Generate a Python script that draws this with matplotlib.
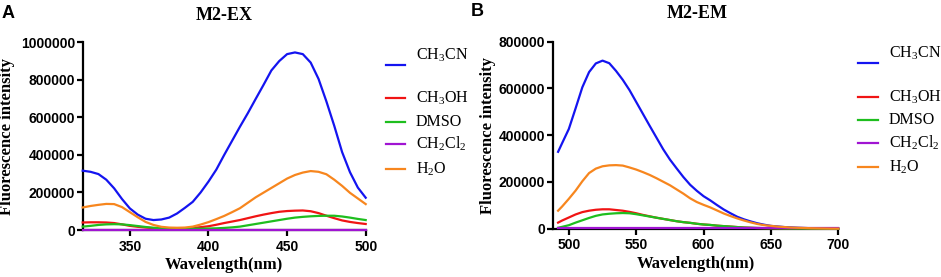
import matplotlib
matplotlib.use("Agg")
import matplotlib.pyplot as plt
from matplotlib.lines import Line2D

plt.rcParams['font.family'] = ['Liberation Sans', 'DejaVu Sans']
plt.rcParams['mathtext.fontset'] = 'custom'
plt.rcParams['mathtext.rm'] = 'Liberation Serif'

# ---------------- Data ----------------
series_names = [r'CH$_\mathregular{3}$CN', r'CH$_\mathregular{3}$OH', 'DMSO',
                r'CH$_\mathregular{2}$Cl$_\mathregular{2}$', r'H$_\mathregular{2}$O']

# Panel A: excitation spectra (M2-EX)
ex_wl = list(range(320, 505, 5))
ex_ch3cn = [316e3, 310e3, 298e3, 268e3, 222e3, 165e3, 115e3, 82e3, 60e3, 53e3,
            56e3, 66e3, 88e3, 118e3, 150e3, 200e3, 258e3, 322e3, 400e3, 475e3,
            550e3, 622e3, 698e3, 773e3, 850e3, 900e3, 937e3, 946e3, 937e3, 892e3,
            805e3, 685e3, 555e3, 415e3, 308e3, 226e3, 172e3]
ex_ch3oh = [40e3, 41e3, 41e3, 40e3, 37e3, 30e3, 22e3, 17e3, 13e3, 10e3,
            8e3, 7e3, 8e3, 9e3, 11e3, 15e3, 20e3, 28e3, 37e3, 45e3,
            53e3, 63e3, 73e3, 82e3, 90e3, 97e3, 101e3, 103e3, 104e3, 100e3,
            90e3, 76e3, 63e3, 51e3, 43e3, 37e3, 32e3]
ex_dmso = [18e3, 22e3, 27e3, 30e3, 31e3, 30e3, 26e3, 21e3, 16e3, 12e3,
           10e3, 9e3, 8e3, 7e3, 7e3, 7e3, 8e3, 9e3, 11e3, 14e3,
           18e3, 25e3, 32e3, 39e3, 46e3, 53e3, 60e3, 66e3, 70e3, 73e3,
           75e3, 76e3, 76e3, 72e3, 66e3, 59e3, 53e3]
ex_ch2cl2 = [1.5e3] * 37
ex_h2o = [120e3, 128e3, 134e3, 139e3, 138e3, 122e3, 95e3, 68e3, 43e3, 27e3,
          17e3, 13e3, 12e3, 13e3, 18e3, 29e3, 42e3, 58e3, 75e3, 95e3,
          116e3, 145e3, 174e3, 199e3, 224e3, 249e3, 274e3, 293e3, 306e3, 314e3,
          310e3, 297e3, 268e3, 235e3, 198e3, 168e3, 138e3]

# Panel B: emission spectra (M2-EM)
em_wl = [492] + list(range(495, 705, 5))
em_ch3cn = [329e3, 366e3, 427e3, 515e3, 605e3, 670e3, 707e3, 719e3, 708e3, 675e3,
            637e3, 593e3, 542e3, 491e3, 440e3, 390e3, 340e3, 296e3, 258e3, 221e3,
            188e3, 162e3, 139e3, 121e3, 101e3, 82e3, 66e3, 51e3, 40e3, 31e3,
            23e3, 17e3, 12e3, 9.5e3, 7e3, 5.5e3, 4e3, 3e3, 2e3, 1.5e3, 1e3, 0.5e3, 0.3e3]
em_ch3oh = [26e3, 35e3, 48e3, 61e3, 71e3, 77e3, 81e3, 83e3, 83e3, 80e3,
            77e3, 72e3, 66e3, 59e3, 53e3, 47e3, 42e3, 37e3, 32e3, 28e3,
            25e3, 21e3, 18e3, 16e3, 13e3, 11e3, 9e3, 7e3, 5e3, 4e3,
            3e3, 2.5e3, 2e3, 1.5e3, 1e3, 0.8e3, 0.6e3, 0.4e3, 0.3e3, 0.2e3, 0.1e3, 0.1e3, 0]
em_dmso = [4e3, 8e3, 15e3, 26e3, 36e3, 46e3, 55e3, 61e3, 64e3, 66e3,
           67e3, 66e3, 62e3, 57e3, 52e3, 47e3, 42e3, 37e3, 32e3, 28e3,
           25e3, 21e3, 18e3, 16e3, 13e3, 11e3, 9e3, 7e3, 5e3, 4e3,
           3e3, 2.5e3, 2e3, 1.5e3, 1e3, 0.8e3, 0.6e3, 0.4e3, 0.3e3, 0.2e3, 0.1e3, 0.1e3, 0]
em_ch2cl2 = [1e3] * 43
em_h2o = [77e3, 95e3, 128e3, 163e3, 203e3, 238e3, 257e3, 267e3, 271e3, 272e3,
          270e3, 262e3, 253e3, 242e3, 230e3, 216e3, 201e3, 186e3, 168e3, 150e3,
          130e3, 114e3, 102e3, 91e3, 78e3, 65e3, 54e3, 44e3, 35e3, 27e3,
          20e3, 15e3, 12e3, 9e3, 7e3, 5e3, 4e3, 3e3, 2e3, 1.5e3, 1e3, 0.5e3, 0.3e3]

colors = ['#1414f0', '#f01414', '#1ebe1e', '#a014d2', '#f7861e']

# ---------------- Figure ----------------
W, H = 941, 277
fig = plt.figure(figsize=(W / 100, H / 100), dpi=100)


def px_axes(l, t, r, b):
    return fig.add_axes([l / W, 1 - b / H, (r - l) / W, (b - t) / H])


def style(ax, xlim, xticks, ylim, yticks):
    ax.set_xlim(*xlim)
    ax.set_ylim(*ylim)
    ax.set_xticks(xticks)
    ax.set_yticks(yticks)
    ax.set_yticklabels([str(int(v)) for v in yticks])
    for s in ['top', 'right']:
        ax.spines[s].set_visible(False)
    for s in ['left', 'bottom']:
        ax.spines[s].set_linewidth(1.6)
    ax.tick_params(axis='both', length=4, width=1.6, labelsize=10)
    ax.tick_params(axis='x', pad=3)
    ax.tick_params(axis='y', pad=1.5)
    for lab in ax.get_xticklabels() + ax.get_yticklabels():
        lab.set_fontweight('bold')


def draw_legend(x_line0, x_line1, x_text, ys_line, ys_text):
    for c, name, yl, yt in zip(colors, series_names, ys_line, ys_text):
        fig.add_artist(Line2D([x_line0 / W, x_line1 / W], [1 - yl / H, 1 - yl / H],
                              color=c, lw=1.6, transform=fig.transFigure))
        fig.text(x_text / W, 1 - yt / H, name, fontsize=11.5,
                 family='Liberation Serif', va='center', ha='left')


# Panel A
axA = px_axes(82.7, 42.3, 365.7, 230)
for ys, c in zip([ex_ch3cn, ex_ch3oh, ex_dmso, ex_ch2cl2, ex_h2o], colors):
    axA.plot(ex_wl, ys, color=c, lw=1.6, clip_on=False, zorder=3)
style(axA, (320, 500), [350, 400, 450, 500], (0, 1000000),
      [0, 200000, 400000, 600000, 800000, 1000000])
axA.set_xlabel('Wavelength(nm)', family='Liberation Serif', fontweight='bold', fontsize=12)
axA.xaxis.set_label_coords(0.5, -0.145)
axA.set_ylabel('Fluorescence intensity', family='Liberation Serif', fontweight='bold', fontsize=12)
axA.yaxis.set_label_coords(-0.238, 0.5)
fig.text(224 / W, 1 - 15 / H, 'M2-EX', family='Liberation Serif', fontweight='bold',
         fontsize=13, ha='center', va='center')
fig.text(1.5 / W, 1 - 5 / H, 'A', fontweight='bold', fontsize=13, ha='left', va='top')
draw_legend(386, 405, 416, [65, 98, 122, 144, 169], [55, 98, 122, 144, 169])

# Panel B
axB = px_axes(552.7, 41.7, 838.3, 228.7)
for ys, c in zip([em_ch3cn, em_ch3oh, em_dmso, em_ch2cl2, em_h2o], colors):
    axB.plot(em_wl, ys, color=c, lw=1.6, clip_on=False, zorder=3)
style(axB, (488, 700), [500, 550, 600, 650, 700], (0, 800000),
      [0, 200000, 400000, 600000, 800000])
axB.set_xlabel('Wavelength(nm)', family='Liberation Serif', fontweight='bold', fontsize=12)
axB.xaxis.set_label_coords(0.5, -0.145)
axB.set_ylabel('Fluorescence intensity', family='Liberation Serif', fontweight='bold', fontsize=12)
axB.yaxis.set_label_coords(-0.2, 0.5)
fig.text(697 / W, 1 - 14 / H, 'M2-EM', family='Liberation Serif', fontweight='bold',
         fontsize=13, ha='center', va='center')
fig.text(471 / W, 1 - 3 / H, 'B', fontweight='bold', fontsize=13, ha='left', va='top')
draw_legend(858, 878, 889, [63, 97, 120, 143, 167], [53, 97, 120, 143, 167])

fig.savefig('out.png', dpi=100)
